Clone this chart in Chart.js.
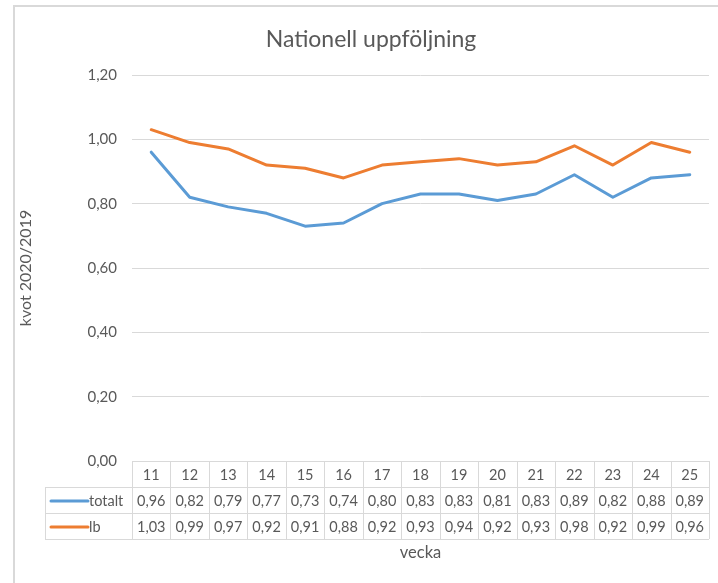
<!DOCTYPE html>
<html>
<head>
<meta charset="utf-8">
<script src="https://cdn.jsdelivr.net/npm/chart.js@4"></script>
<style>
  html, body { margin: 0; padding: 0; background: #fff; }
  #wrap { width: 718px; height: 583px; }
</style>
</head>
<body>
<div id="wrap"><canvas id="kvotChart" width="718" height="583"></canvas></div>
<script>
const veckor = ['11', '12', '13', '14', '15', '16', '17', '18', '19', '20', '21', '22', '23', '24', '25'];
const totalt = [0.96, 0.82, 0.79, 0.77, 0.73, 0.74, 0.80, 0.83, 0.83, 0.81, 0.83, 0.89, 0.82, 0.88, 0.89];
const lb = [1.03, 0.99, 0.97, 0.92, 0.91, 0.88, 0.92, 0.93, 0.94, 0.92, 0.93, 0.98, 0.92, 0.99, 0.96];
const yTicks = [0, 0.2, 0.4, 0.6, 0.8, 1.0, 1.2];

const BLA = '#5B9BD5';
const ORANGE = '#ED7D31';
const TEXT = '#595959';
const LINJE = '#D9D9D9';
const FONT = 'Lato, "Open Sans", sans-serif';

const komma = v => v.toFixed(2).replace('.', ',');

// ram, rubrik (diagrammet är bredare än bilden, så rubriken sitter lite till höger) och datatabell
const tabellPlugin = {
    id: 'tabell',
    beforeDraw(chart) {
        const ctx = chart.ctx;
        ctx.save();
        ctx.strokeStyle = LINJE;
        ctx.lineWidth = 2;
        ctx.beginPath();
        ctx.moveTo(14, 583);
        ctx.lineTo(14, 6);
        ctx.lineTo(718, 6);
        ctx.stroke();

        ctx.fillStyle = TEXT;
        ctx.font = '23px ' + FONT;
        ctx.textAlign = 'center';
        ctx.textBaseline = 'middle';
        ctx.fillText('Nationell uppföljning', 371, 40);
        ctx.restore();
    },
    afterDraw(chart) {
        const ctx = chart.ctx;
        const area = chart.chartArea;
        const xs = chart.scales.x;
        const bredd = (area.right - area.left) / veckor.length;
        const radH = 26;
        const topp = area.bottom;
        const vanster = 45;
        const serier = [
            { namn: 'totalt', farg: BLA, data: totalt },
            { namn: 'lb', farg: ORANGE, data: lb }
        ];

        ctx.save();
        ctx.strokeStyle = LINJE;
        ctx.lineWidth = 1;
        ctx.beginPath();
        ctx.moveTo(area.left, topp + 0.5);
        ctx.lineTo(area.right, topp + 0.5);
        for (let r = 1; r <= 3; r++) {
            ctx.moveTo(vanster, topp + r * radH + 0.5);
            ctx.lineTo(area.right, topp + r * radH + 0.5);
        }
        ctx.moveTo(vanster + 0.5, topp + radH);
        ctx.lineTo(vanster + 0.5, topp + 3 * radH);
        for (let i = 0; i <= veckor.length; i++) {
            const x = Math.round(area.left + i * bredd) + 0.5;
            ctx.moveTo(x, topp);
            ctx.lineTo(x, topp + 3 * radH);
        }
        ctx.stroke();

        ctx.fillStyle = TEXT;
        ctx.font = '14.5px ' + FONT;
        ctx.textAlign = 'center';
        ctx.textBaseline = 'middle';
        veckor.forEach((v, i) => {
            ctx.fillText(v, xs.getPixelForValue(i), topp + radH / 2 + 1);
        });
        serier.forEach((s, r) => {
            const y = topp + (r + 1) * radH + radH / 2 + 1;
            s.data.forEach((v, i) => {
                ctx.fillStyle = TEXT;
                ctx.textAlign = 'center';
                ctx.fillText(komma(v), xs.getPixelForValue(i), y);
            });
            ctx.strokeStyle = s.farg;
            ctx.lineWidth = 3;
            ctx.lineCap = 'round';
            ctx.beginPath();
            ctx.moveTo(vanster + 6, y);
            ctx.lineTo(vanster + 43, y);
            ctx.stroke();
            ctx.fillStyle = TEXT;
            ctx.textAlign = 'left';
            ctx.fillText(s.namn, vanster + 44, y);
        });

        ctx.font = '16.5px ' + FONT;
        ctx.textAlign = 'center';
        ctx.fillText('vecka', (area.left + area.right) / 2, 553);
        ctx.restore();
    }
};

new Chart(document.getElementById('kvotChart'), {
    type: 'line',
    data: {
        labels: veckor,
        datasets: [
            { label: 'totalt', data: totalt, borderColor: BLA, backgroundColor: BLA },
            { label: 'lb', data: lb, borderColor: ORANGE, backgroundColor: ORANGE }
        ]
    },
    options: {
        responsive: false,
        animation: false,
        layout: { padding: { left: 0, right: 9, top: 75, bottom: 122 } },
        elements: {
            line: { borderWidth: 3, tension: 0, borderCapStyle: 'round', borderJoinStyle: 'round' },
            point: { radius: 0 }
        },
        plugins: {
            legend: { display: false },
            tooltip: { enabled: false },
            title: { display: false }
        },
        scales: {
            x: {
                type: 'category',
                offset: true,
                display: false
            },
            y: {
                min: 0,
                max: 1.2,
                afterBuildTicks: axis => { axis.ticks = yTicks.map(v => ({ value: v })); },
                afterFit: axis => { axis.width = 132; },
                border: { display: false },
                grid: { color: LINJE, drawTicks: false, lineWidth: 1 },
                ticks: {
                    color: TEXT,
                    padding: 15,
                    font: { family: FONT, size: 15 },
                    callback: v => komma(v)
                },
                title: {
                    display: true,
                    text: 'kvot 2020/2019',
                    color: TEXT,
                    font: { family: FONT, size: 16 },
                    padding: { top: 16, bottom: 0 }
                }
            }
        }
    },
    plugins: [tabellPlugin]
});
</script>
</body>
</html>
